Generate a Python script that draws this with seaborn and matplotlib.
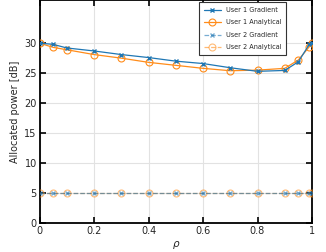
import numpy as np
import pandas as pd
import matplotlib
matplotlib.use('Agg')
import matplotlib.pyplot as plt
import seaborn as sns

# data
rho = [0, 0.05, 0.1, 0.2, 0.3, 0.4, 0.5, 0.6, 0.7, 0.8, 0.9, 0.95, 0.99, 1.0]
user1_gradient = [30.0, 29.8, 29.2, 28.7, 28.1, 27.6, 27.0, 26.6, 25.9, 25.3, 25.45, 26.9, 29.8, 30.0]
user1_analytical = [30.0, 29.3, 28.9, 28.1, 27.5, 26.8, 26.3, 25.8, 25.4, 25.5, 25.8, 27.2, 29.4, 30.0]
user2_gradient = [5.0] * len(rho)
user2_analytical = [5.0] * len(rho)

BLUE = '#1f77b4'
ORANGE = '#ff8c1a'

sns.set_style('ticks')
plt.rcParams['font.family'] = ['DejaVu Sans']
plt.rcParams['xtick.direction'] = 'in'
plt.rcParams['ytick.direction'] = 'in'

fig = plt.figure(figsize=(3.26, 2.52), dpi=100)
ax = fig.add_axes([39.5 / 326, 29 / 252, 272.5 / 326, 223 / 252])

sns.lineplot(x=rho, y=user1_gradient, ax=ax, color=BLUE, lw=0.9,
             marker='x', ms=3.5, mew=1.0, mec=BLUE, label='User 1 Gradient',
             zorder=4)
sns.lineplot(x=rho, y=user1_analytical, ax=ax, color=ORANGE, lw=0.9,
             marker='o', ms=5, mfc='none', mec=ORANGE, mew=0.8,
             label='User 1 Analytical', zorder=3)
sns.lineplot(x=rho, y=user2_gradient, ax=ax, color=BLUE, lw=0.9, alpha=0.6,
             linestyle='--', marker='x', ms=3.5, mew=1.0, mec=BLUE,
             label='User 2 Gradient', zorder=4)
sns.lineplot(x=rho, y=user2_analytical, ax=ax, color=ORANGE, lw=0.9, alpha=0.6,
             linestyle='--', marker='o', ms=5, mfc='none', mec=ORANGE, mew=0.8,
             label='User 2 Analytical', zorder=3)

ax.set_xlim(0, 1)
ax.set_ylim(0, 37.2)
ax.set_xticks([0, 0.2, 0.4, 0.6, 0.8, 1])
ax.set_xticklabels(['0', '0.2', '0.4', '0.6', '0.8', '1'])
ax.set_yticks([0, 5, 10, 15, 20, 25, 30])
ax.grid(True, color='#e2e2e2', lw=0.8)
ax.tick_params(axis='both', which='both', top=True, right=True,
               length=4, width=1.2, labelsize=7, pad=2, color='black')
for sp in ax.spines.values():
    sp.set_linewidth(1.3)
    sp.set_color('black')

ax.set_xlabel(r'$\rho$', fontsize=7.5, labelpad=2)
ax.set_ylabel('Allocated power [dB]', fontsize=7, labelpad=3)

leg = ax.legend(loc='upper right', fontsize=4.7, frameon=True, fancybox=False,
                edgecolor='#333333', framealpha=1, borderpad=0.7,
                handlelength=2.6, handletextpad=0.8, labelspacing=1.0,
                borderaxespad=0, bbox_to_anchor=(0.905, 0.99))
leg.get_frame().set_linewidth(0.8)

fig.savefig('out.png', dpi=100)
